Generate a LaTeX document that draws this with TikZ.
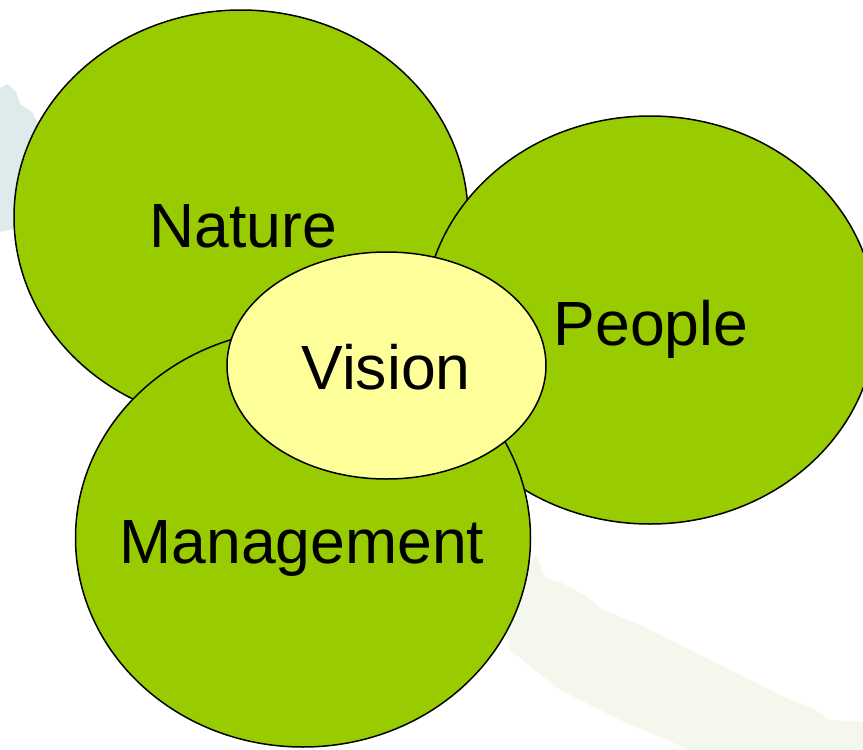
\documentclass[tikz,border=0pt]{standalone}
\usepackage{fontspec}
\setmainfont{Liberation Sans}
\usetikzlibrary{shapes.geometric}

\definecolor{leafgreen}{HTML}{99CC00}
\definecolor{paleyellow}{HTML}{FFFF99}
\definecolor{mistblue}{HTML}{DDEBEA}
\definecolor{mistgreen}{HTML}{F4F8EC}

\begin{document}
\begin{tikzpicture}[x=1pt,y=-1pt]

      \useasboundingbox (0,0) rectangle (863,750);

      % faint brush strokes in the background
      \fill[mistblue] (0,88) -- (8,84) -- (16,92) -- (20,104) -- (32,112) -- (40,126)
        -- (48,150) -- (40,200) -- (30,225) -- (0,232) -- cycle;
      \fill[mistgreen] (536,555) -- (545,578) -- (560,582) -- (585,595) -- (600,608)
        -- (640,625) -- (700,655) -- (760,685) -- (790,700) -- (812,708) -- (830,720)
        -- (863,722) -- (863,750) -- (690,750) -- (620,720) -- (560,690) -- (510,650)
        -- (500,600) -- cycle;

      \begin{scope}[every node/.style={ellipse, draw, line width=1.5pt,
          inner sep=0pt, fill=leafgreen}]
        \node[minimum width=454pt, minimum height=414pt] (nature) at (241,217) {};
        \node[minimum width=452pt, minimum height=408pt] (people) at (650,320) {};
        \node[minimum width=455pt, minimum height=418pt] (management) at (303,538) {};
      \end{scope}

      \node[ellipse, draw, line width=1.5pt, inner sep=0pt, fill=paleyellow,
        minimum width=319pt, minimum height=227pt] (vision) at (386.5,365.5) {};

      \begin{scope}[every node/.style={anchor=base, inner sep=0pt,
          font=\fontsize{62.5}{62.5}\selectfont}]
        \node (naturetxt) at (243,247) {Nature};
        \node (peopletxt) at (651,345) {People};
        \node (managementtxt) at (302,563) {Management};
        \node (visiontxt) at (386,389) {Vision};
      \end{scope}

    \end{tikzpicture}
\end{document}
